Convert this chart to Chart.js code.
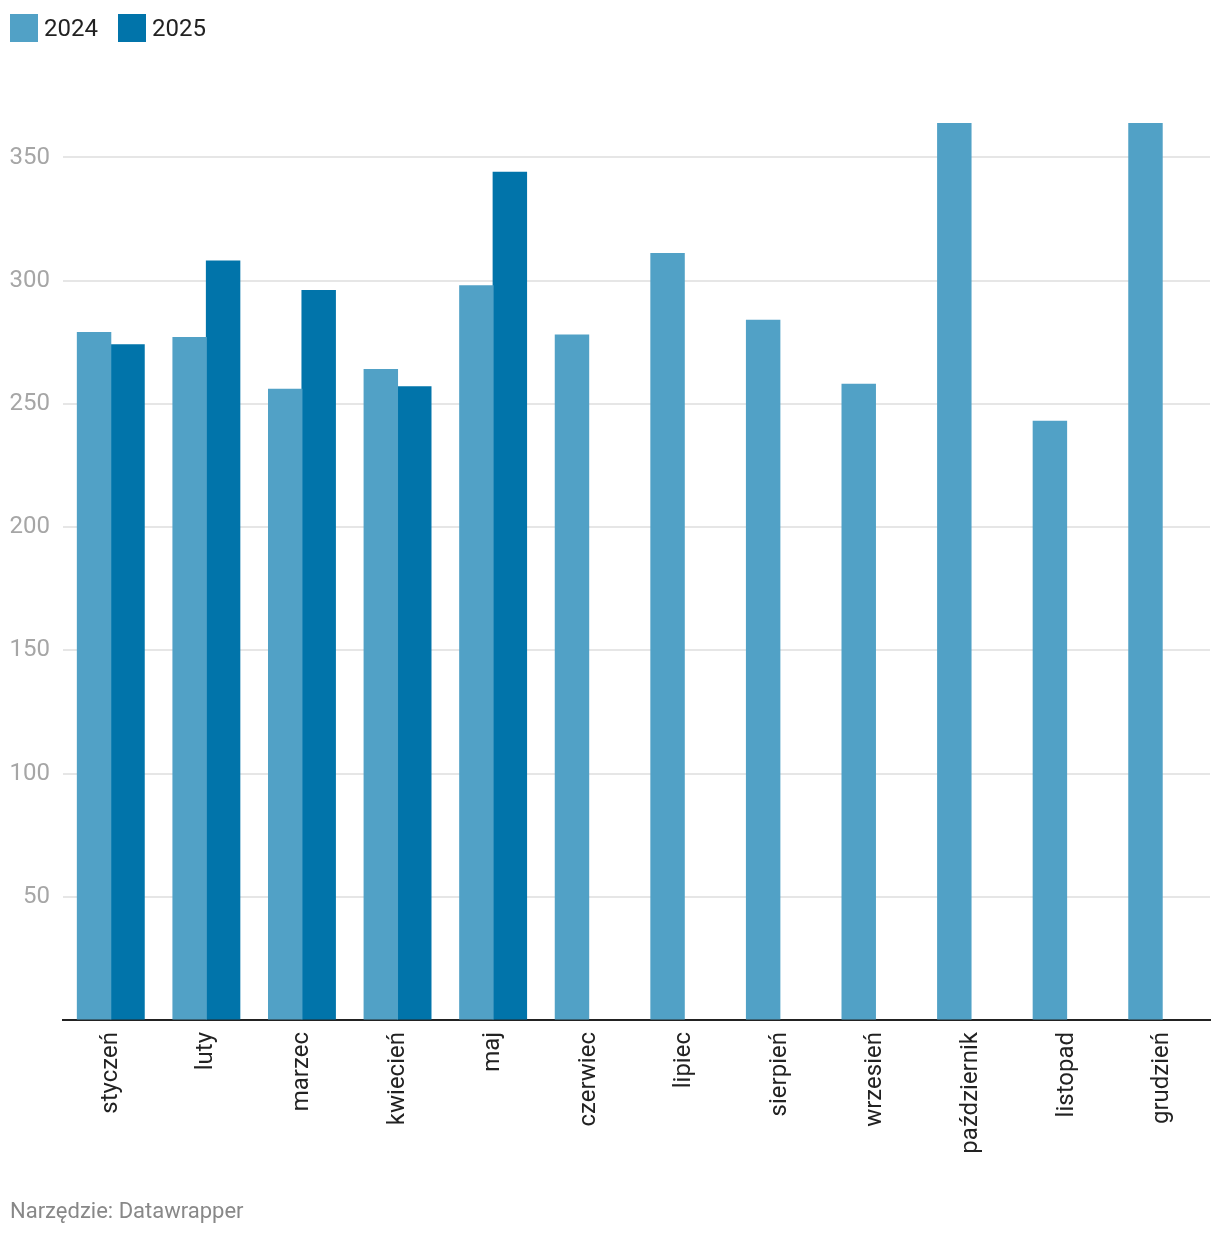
<!DOCTYPE html>
<html lang="pl">
<head>
<meta charset="utf-8">
<title>2024 / 2025</title>
<script src="https://cdn.jsdelivr.net/npm/chart.js@4.4.1/dist/chart.umd.min.js"></script>
<style>
    body {
        margin: 0;
        background: #ffffff;
        font-family: Roboto, "Noto Sans", sans-serif;
    }
    .wrap {
        position: relative;
        width: 1220px;
        height: 1236px;
    }
    .legend {
        position: absolute;
        left: 10px;
        top: 14px;
        display: flex;
        align-items: center;
        font-size: 24px;
        color: #222222;
    }
    .legend .box {
        width: 28px;
        height: 28px;
        margin-right: 6px;
    }
    .legend .item {
        display: flex;
        align-items: center;
        margin-right: 20px;
    }
    .footer {
        position: absolute;
        left: 10px;
        top: 1198px;
        font-size: 22px;
        color: #888888;
    }
    canvas {
        position: absolute;
        left: 0;
        top: 0;
    }
</style>
</head>
<body>
<div class="wrap">
    <canvas id="grafica" width="1220" height="1236"></canvas>
    <div class="legend" id="legend"></div>
    <div class="footer">Narzędzie: Datawrapper</div>
</div>

<script>
// Months (categories)
const months = ["styczeń", "luty", "marzec", "kwiecień", "maj", "czerwiec",
    "lipiec", "sierpień", "wrzesień", "październik", "listopad", "grudzień"];

// Values per year (2025 only up to May)
const values2024 = [279, 277, 256, 264, 298, 278, 311, 284, 258, 364, 243, 364];
const values2025 = [274, 308, 296, 257, 344, null, null, null, null, null, null, null];

// Y tick step
const yStep = 50;

const colors = ["#51a1c6", "#0174aa"];
const seriesNames = ["2024", "2025"];

// Simple html legend at the top left
const legend = document.getElementById("legend");
seriesNames.forEach((name, i) => {
    const item = document.createElement("div");
    item.className = "item";
    item.innerHTML = `<div class="box" style="background:${colors[i]}"></div><span>${name}</span>`;
    legend.appendChild(item);
});

const yMax = Math.max(...values2024, ...values2025.filter(v => v !== null));

new Chart(document.getElementById("grafica"), {
    type: "bar",

    data: {
        labels: months,
        datasets: [{
            label: seriesNames[0],
            data: values2024,
            backgroundColor: colors[0],
            borderWidth: 0,
            inflateAmount: 0.5
        }, {
            label: seriesNames[1],
            data: values2025,
            backgroundColor: colors[1],
            borderWidth: 0,
            inflateAmount: 0.5
        }]
    },

    options: {
        responsive: false,
        animation: false,
        categoryPercentage: 0.7,
        barPercentage: 1,

        layout: {
            padding: { left: 10, right: 10, top: 123, bottom: 0 }
        },

        plugins: {
            legend: { display: false },
            tooltip: { enabled: false }
        },

        scales: {
            x: {
                grid: { display: false, drawTicks: false, tickLength: 0 },
                border: { display: true, color: "#222222", width: 2 },
                ticks: {
                    color: "#222222",
                    font: { family: "Roboto", size: 24 },
                    minRotation: 90,
                    maxRotation: 90,
                    padding: 12,
                    autoSkip: false
                },
                // fixed height so the plot bottom sits where it should
                afterFit(axis) {
                    axis.height = 216;
                }
            },
            y: {
                min: 0,
                max: yMax,
                grid: {
                    color: "#e6e6e6",
                    lineWidth: 2,
                    drawTicks: false
                },
                border: { display: false },
                ticks: {
                    stepSize: yStep,
                    includeBounds: false,
                    color: "#a6a6a6",
                    font: { family: "Roboto", size: 24 },
                    padding: 13,
                    callback: (value) => value === 0 ? "" : value
                },
                afterFit(axis) {
                    axis.width = 53;
                }
            }
        }
    }
});
</script>
</body>
</html>
